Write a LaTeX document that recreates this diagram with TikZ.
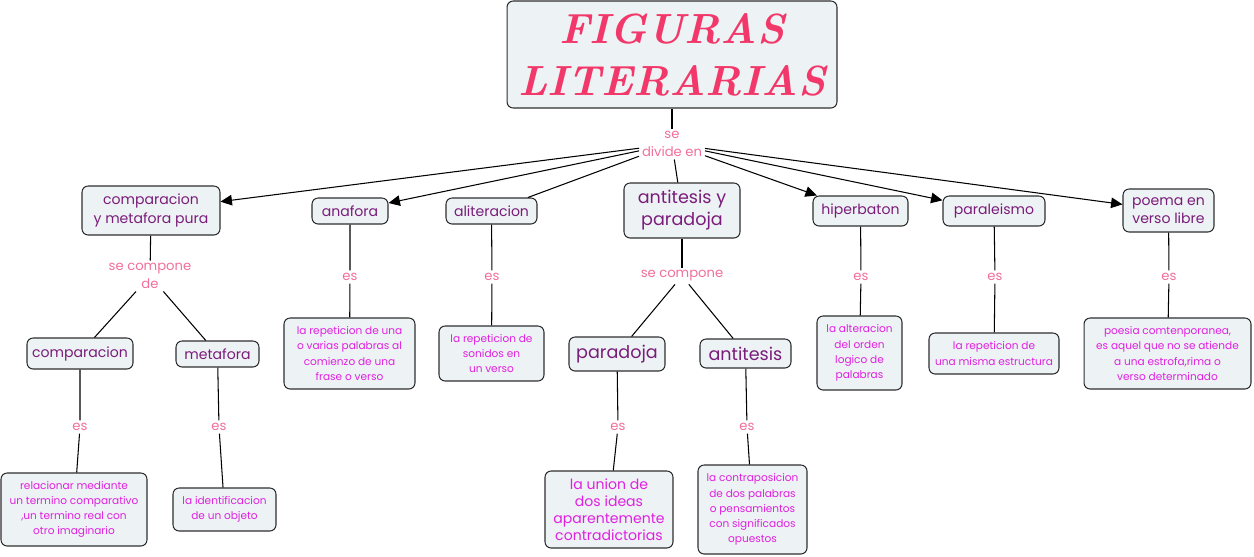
\documentclass[tikz,border=0pt]{standalone}
\usepackage{fontspec}
\newfontfamily\mapfont{Poppins}
\usetikzlibrary{arrows.meta}
\definecolor{boxfill}{HTML}{EDF2F4}
\definecolor{boxline}{HTML}{2E2E2E}
\definecolor{titlepink}{HTML}{F2386A}
\definecolor{conceptpurple}{HTML}{7A1C7A}
\definecolor{defmagenta}{HTML}{E020E0}
\definecolor{linkpink}{HTML}{F0709A}

\tikzset{
  box/.style={draw=boxline, fill=boxfill, rounded corners=3.5pt, line width=0.6pt, align=center, inner sep=1pt},
  concept/.style={box, font=\mapfont\fontsize{8}{10.5}\selectfont, text=conceptpurple},
  bigconcept/.style={box, font=\mapfont\fontsize{10}{12.5}\selectfont, text=conceptpurple},
  defbox/.style={box, font=\mapfont\fontsize{6}{8.6}\selectfont, text=defmagenta},
  linkword/.style={font=\mapfont\fontsize{7.5}{10}\selectfont, text=linkpink, align=center, inner sep=1.5pt},
  link/.style={draw=black, line width=0.6pt},
  arrowlink/.style={link, -{Triangle[length=6.5pt,width=6pt]}},
}

\begin{document}
\begin{tikzpicture}[x=0.02cm, y=-0.02cm]
\useasboundingbox (0,0) rectangle (1254,556);
% top
\node[box, minimum width=6.6cm, minimum height=2.14cm, text=titlepink,
  font=\rmfamily\bfseries\itshape\fontsize{24}{29.6}\selectfont] (title) at (672,54.5) {FIGURAS\\LITERARIAS};
\node[linkword] (divide) at (672,144) {se\\divide en};
% first row
\node[concept, minimum width=2.76cm, minimum height=0.98cm] (cmp) at (151,210.5) {comparacion\\y metafora pura};
\node[concept, minimum width=1.52cm, minimum height=0.52cm] (anafora) at (350,211) {anafora};
\node[concept, minimum width=1.82cm, minimum height=0.52cm] (aliter) at (491.5,211) {aliteracion};
\node[bigconcept, minimum width=2.32cm, minimum height=1.1cm] (antpar) at (682,210.5) {antitesis y\\paradoja};
\node[concept, minimum width=1.9cm, minimum height=0.6cm] (hiper) at (860.5,211) {hiperbaton};
\node[concept, minimum width=2.04cm, minimum height=0.6cm] (parale) at (994,211) {paraleismo};
\node[concept, minimum width=1.82cm, minimum height=0.86cm] (poema) at (1168.5,210.5) {poema en\\verso libre};
% link words
\node[linkword] (cmpde) at (150,276) {se compone\\de};
\node[linkword] (esana) at (350,277) {es};
\node[linkword] (esali) at (492,277) {es};
\node[linkword] (antcomp) at (682,276) {se compone};
\node[linkword] (eship) at (861,277) {es};
\node[linkword] (espar) at (995,277) {es};
\node[linkword] (espoe) at (1169,277) {es};
% second row
\node[concept, minimum width=2.12cm, minimum height=0.62cm] (compar) at (80,353.5) {comparacion};
\node[concept, minimum width=1.66cm, minimum height=0.52cm] (metaf) at (217.5,354) {metafora};
\node[defbox, minimum width=2.62cm, minimum height=1.42cm] (defana) at (349.5,353.5) {la repeticion de una\\o varias palabras al\\comienzo de una\\frase o verso};
\node[defbox, minimum width=2.1cm, minimum height=1.1cm] (defali) at (491.5,353.5) {la repeticion de\\sonidos en\\un verso};
\node[bigconcept, minimum width=1.92cm, minimum height=0.68cm] (parad) at (617,354) {paradoja};
\node[bigconcept, minimum width=1.82cm, minimum height=0.58cm] (antit) at (745.5,353.5) {antitesis};
\node[defbox, minimum width=1.7cm, minimum height=1.48cm] (defhip) at (859.5,353) {la alteracion\\del orden\\logico de\\palabras};
\node[defbox, minimum width=2.6cm, minimum height=0.82cm] (defpar) at (994,353.5) {la repeticion de\\una misma estructura};
\node[defbox, minimum width=3.34cm, minimum height=1.42cm] (defpoe) at (1167.5,353.5) {poesia comtenporanea,\\es aquel que no se atiende\\a una estrofa,rima o\\verso determinado};
% third row
\node[linkword] (escom) at (80,427) {es};
\node[linkword] (esmet) at (219,427) {es};
\node[linkword] (esprd) at (618,427) {es};
\node[linkword] (esant) at (747,427) {es};
\node[defbox, minimum width=2.92cm, minimum height=1.46cm] (defcom) at (74,509.5) {relacionar mediante\\un termino comparativo\\,un termino real con\\otro imaginario};
\node[defbox, minimum width=2.06cm, minimum height=0.86cm] (defmet) at (224.5,509.5) {la identificacion\\de un objeto};
\node[defbox, font=\mapfont\fontsize{8}{9.6}\selectfont, minimum width=2.56cm, minimum height=1.54cm] (defprd) at (609,509.5) {la union de\\dos ideas\\aparentemente\\contradictorias};
\node[defbox, minimum width=2.18cm, minimum height=1.78cm] (defant) at (752.5,509.5) {la contraposicion\\de dos palabras\\o pensamientos\\con significados\\opuestos};
% connectors
\draw[link] (title) -- (divide);
\draw[arrowlink] (divide) -- (cmp);
\draw[arrowlink] (divide) -- (anafora);
\draw[link] (divide) -- (aliter);
\draw[link] (divide) -- (antpar);
\draw[arrowlink] (divide) -- (hiper);
\draw[arrowlink] (divide) -- (parale);
\draw[arrowlink] (divide) -- (poema);
\draw[link] (cmp) -- (cmpde);
\draw[link] (cmpde) -- (compar);
\draw[link] (cmpde) -- (metaf);
\draw[link] (anafora) -- (esana) -- (defana);
\draw[link] (aliter) -- (esali) -- (defali);
\draw[link] (antpar) -- (antcomp);
\draw[link] (antcomp) -- (parad);
\draw[link] (antcomp) -- (antit);
\draw[link] (hiper) -- (eship) -- (defhip);
\draw[link] (parale) -- (espar) -- (defpar);
\draw[link] (poema) -- (espoe) -- (defpoe);
\draw[link] (compar) -- (escom) -- (defcom);
\draw[link] (metaf) -- (esmet) -- (defmet);
\draw[link] (parad) -- (esprd) -- (defprd);
\draw[link] (antit) -- (esant) -- (defant);
\end{tikzpicture}
\end{document}
